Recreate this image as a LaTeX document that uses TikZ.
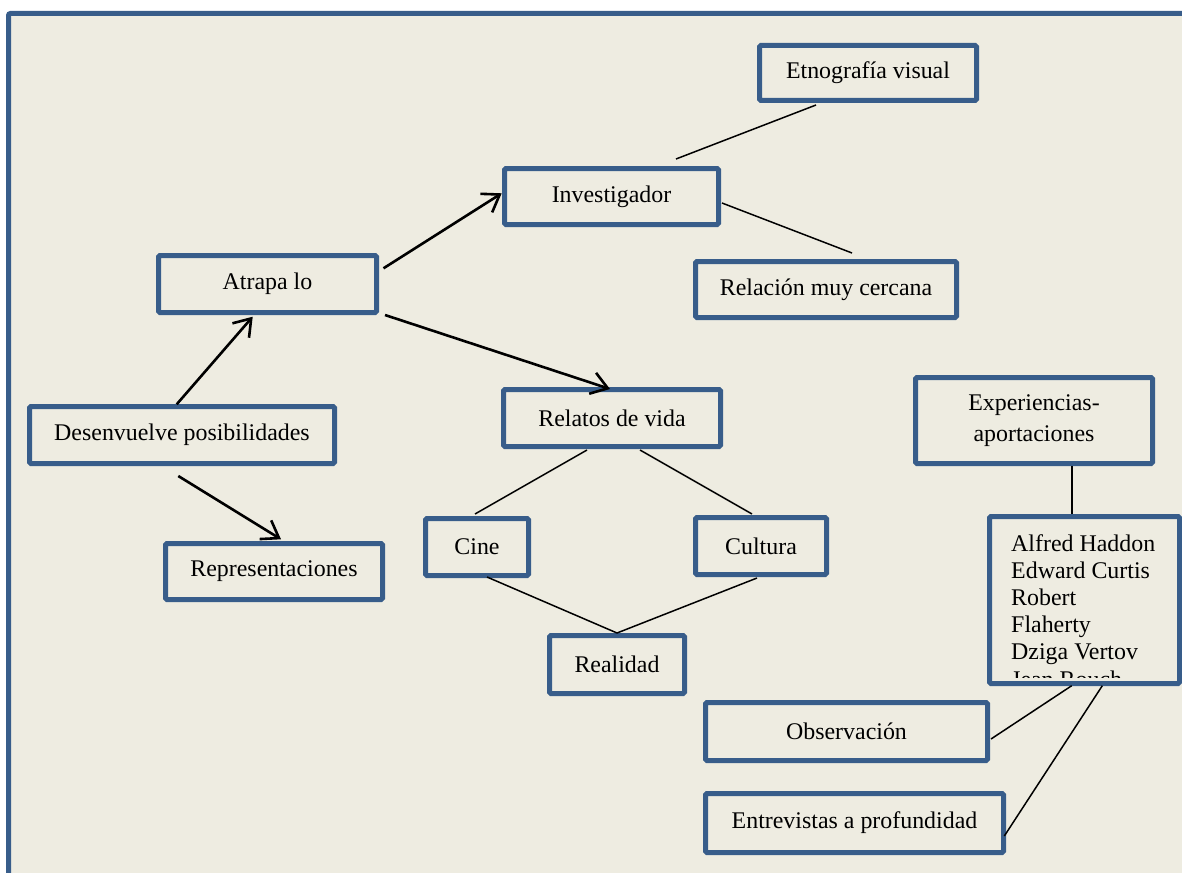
\documentclass[tikz,border=0pt]{standalone}
\usepackage{fontspec}
\setmainfont{Liberation Serif}
\usetikzlibrary{arrows.meta}
\definecolor{frameblue}{HTML}{385D8A}
\definecolor{paper}{HTML}{EEECE1}
\begin{document}
\begin{tikzpicture}[x=1pt,y=-1pt,
  box/.style={draw=frameblue, line width=5pt, fill=paper, rectangle, rounded corners=1.5pt,
    inner sep=0pt, text=black, font=\fontsize{23.9}{27.5}\selectfont},
  conn/.style={line width=1.5pt, draw=black},
  arr/.style={line width=2.6pt, draw=black, -{Straight Barb[length=16pt,width=22pt]}},
  listtext/.style={inner sep=0pt, align=left, text=black, font=\fontsize{23.9}{27.2}\selectfont}]
\clip (0,0) rectangle (1182,872);
\fill[white] (0,0) rectangle (1182,872);
\draw[draw=frameblue, line width=5pt, fill=paper, rounded corners=2pt] (8.5,13.5) rectangle (1200,900);

% boxes
\node[box, minimum width=217pt, minimum height=55pt] (etno) at (868,73) {Etnografía visual};
\node[box, minimum width=214pt, minimum height=56pt] (inv) at (611.5,196.5) {Investigador};
\node[box, minimum width=218pt, minimum height=57pt] (atrapa) at (267.5,284) {Atrapa lo};
\node[box, minimum width=261pt, minimum height=56pt] (rel) at (826,289.5) {Relación muy cercana};
\node[box, minimum width=217pt, minimum height=57pt] (relatos) at (612,418) {Relatos de vida};
\node[box, minimum width=237pt, minimum height=86pt, align=center,
      font=\fontsize{23.9}{31}\selectfont] (exp) at (1034,420.5) {Experiencias-\\aportaciones};
\node[box, minimum width=305pt, minimum height=57pt] (des) at (182,435) {Desenvuelve posibilidades};
\node[box, minimum width=103pt, minimum height=57pt] (cine) at (477,547) {Cine};
\node[box, minimum width=131pt, minimum height=57pt] (cult) at (761,546) {Cultura};
\node[box, minimum width=217pt, minimum height=56pt] (repr) at (274,571.5) {Representaciones};
\node[box, minimum width=190pt, minimum height=167pt] (alfred) at (1084.5,600) {};
\begin{scope}
  \clip (992,517) rectangle (1177,677);
  \node[listtext, anchor=north west] (alfredtxt) at (1011,534)
    {Alfred Haddon\\Edward Curtis\\Robert\\Flaherty\\Dziga Vertov\\Jean Rouch};
\end{scope}
\node[box, minimum width=135pt, minimum height=58pt] (real) at (617,664.5) {Realidad};
\node[box, minimum width=282pt, minimum height=58pt] (obs) at (846.5,731.5) {Observación};
\node[box, minimum width=298pt, minimum height=59pt] (entr) at (854.5,823) {Entrevistas a profundidad};

% connector end points
\coordinate (e1) at (816,105);   \coordinate (e2) at (676,159);
\coordinate (r1) at (722,203);   \coordinate (r2) at (852,253);
\coordinate (a1s) at (383.5,268.3); \coordinate (a1e) at (501.7,193.3);
\coordinate (a2s) at (385,315);   \coordinate (a2e) at (610,389);
\coordinate (a3s) at (176.7,404.3); \coordinate (a3e) at (252.7,316.7);
\coordinate (a4s) at (178.3,476); \coordinate (a4e) at (281,539.3);
\coordinate (v1) at (587,450);   \coordinate (v2) at (475,514);
\coordinate (v3) at (640,450);   \coordinate (v4) at (752,514);
\coordinate (w1) at (487,577);   \coordinate (w2) at (617,633);
\coordinate (w3) at (757,578);
\coordinate (x1) at (1072,466);  \coordinate (x2) at (1072,514);
\coordinate (y1) at (1071.7,685.7); \coordinate (y2) at (991,739);
\coordinate (y3) at (1102.3,685.7); \coordinate (y4) at (1004.3,836);

% connectors
\draw[conn] (e1) -- (e2);
\draw[conn] (r1) -- (r2);
\draw[conn] (v1) -- (v2);
\draw[conn] (v3) -- (v4);
\draw[conn] (w1) -- (w2);
\draw[conn] (w3) -- (w2);
\draw[conn] (x1) -- (x2);
\draw[conn] (y1) -- (y2);
\draw[conn] (y3) -- (y4);
\draw[arr] (a1s) -- (a1e);
\draw[arr] (a2s) -- (a2e);
\draw[arr] (a3s) -- (a3e);
\draw[arr] (a4s) -- (a4e);
\end{tikzpicture}
\end{document}
